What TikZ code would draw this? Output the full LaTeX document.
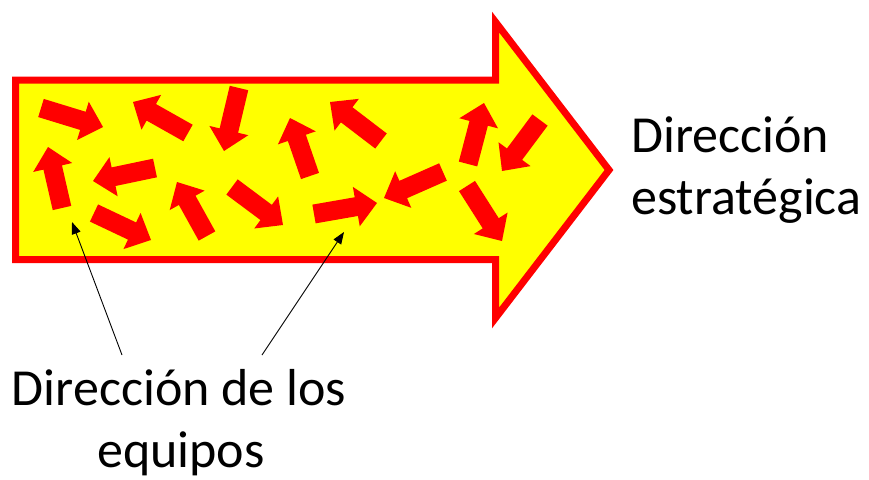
\documentclass[tikz,border=0pt]{standalone}
\usepackage{fontspec}
\setmainfont{Carlito}
\usetikzlibrary{calc,arrows.meta}
\definecolor{bred}{RGB}{255,0,0}
\definecolor{byellow}{RGB}{255,255,0}
\newcommand{\smallarrow}[3]{%
  \coordinate (#1t) at (#2);
  \coordinate (#1h) at (#3);
  \coordinate (#1n) at ($(#1h)!21pt!(#1t)$);
  \fill[bred] ($(#1t)!9.5pt!90:(#1h)$) -- ($(#1n)!9.5pt!90:(#1h)$) -- ($(#1n)!20pt!90:(#1h)$)
    -- (#1h) -- ($(#1n)!20pt!-90:(#1h)$) -- ($(#1n)!9.5pt!-90:(#1h)$) -- ($(#1t)!9.5pt!-90:(#1h)$) -- cycle;
}
\begin{document}
\begin{tikzpicture}[x=1pt,y=-1pt,
  lbl/.style={inner sep=0pt,font=\fontsize{52}{62}\selectfont},
  pointer/.style={black,line width=0.9pt,-{Triangle[length=12pt,width=9pt]}}]
\useasboundingbox (0,0) rectangle (869,479);
% big arrow
\draw[bred,line width=7pt,fill=byellow,line join=miter,miter limit=10]
  (15.5,80) -- (495.5,80) -- (495.5,22) -- (609,170) -- (495.5,318) -- (495.5,259.5) -- (15.5,259.5) -- cycle;
% small arrows (tail, tip)
\smallarrow{sa}{41,108}{103,127}
\smallarrow{sb}{188,133}{133,102}
\smallarrow{sc}{239,88}{224,151}
\smallarrow{sd}{310,176}{290,118}
\smallarrow{se}{62,208}{48,147}
\smallarrow{sf}{155,168}{93,181}
\smallarrow{sg}{94,213}{151,240}
\smallarrow{sh}{207,236}{177,182}
\smallarrow{si}{232,187}{283,225}
\smallarrow{sj}{381,141}{330,102}
\smallarrow{sk}{314,214}{377,203}
\smallarrow{sl}{443,172}{384,198}
\smallarrow{sm}{468,164}{484,103}
\smallarrow{sn}{540,120}{502,171}
\smallarrow{so}{467,186}{502,241}
% texts
\node[lbl,anchor=base west] (ds1) at (631,152) {Dirección};
\node[lbl,anchor=base west] (ds2) at (631,214) {estratégica};
\node[lbl,anchor=base] (de1) at (179,405) {Dirección de los};
\node[lbl,anchor=base] (de2) at (181,467) {equipos};
% pointers
\coordinate (s1) at (122,355);
\coordinate (t1) at (72,222);
\coordinate (s2) at (262,355);
\coordinate (t2) at (344,232);
\draw[pointer] (s1) -- (t1);
\draw[pointer] (s2) -- (t2);
\end{tikzpicture}
\end{document}
